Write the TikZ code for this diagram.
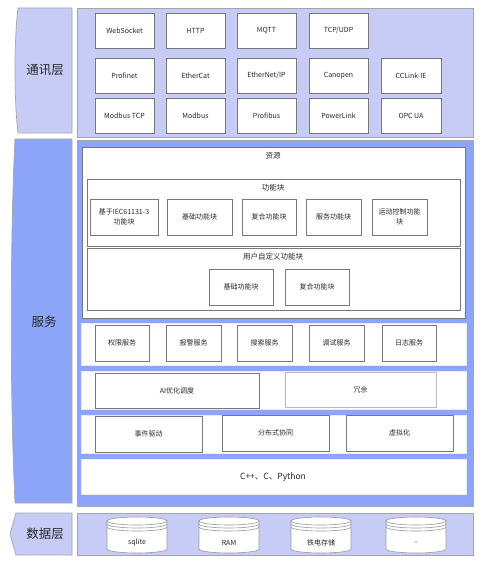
\documentclass[tikz,border=0pt]{standalone}
\usepackage{fontspec}
\setmainfont{Noto Sans CJK SC}
\definecolor{lav}{RGB}{199,204,247}
\definecolor{svc}{RGB}{140,165,248}
\definecolor{bord}{RGB}{120,120,120}
\definecolor{txt}{RGB}{40,40,40}
\tikzset{
  box/.style={draw=bord, line width=0.7pt, fill=white, inner sep=0pt, outer sep=0pt, align=center, text=txt, font=\fontsize{7}{10.5}\selectfont},
  band/.style={fill=white, draw=white!85!gray, line width=0.5pt, inner sep=0pt, outer sep=0pt},
  panel/.style={draw=gray!70, line width=0.7pt, inner sep=0pt, outer sep=0pt},
  layertxt/.style={text=txt, font=\fontsize{12.5}{14}\selectfont},
  ttl/.style={text=txt, font=\fontsize{7.5}{9}\selectfont, inner sep=0pt},
  cyl/.style={draw=gray!80, line width=0.6pt, fill=white}
}
\newcommand\bx[7]{\node[#1, minimum width={(#5-#3)*1pt}, minimum height={(#6-#4)*1pt}] (#2) at ({(#3+#5)/2},{(#4+#6)/2}) {#7};}
\newcommand\cyli[3]{%
  \path[cyl] (#2-30,521) -- (#2-30,549) arc[start angle=180,end angle=360,x radius=30pt,y radius=4pt] -- (#2+30,521) -- cycle;
  \draw[cyl] (#2,521) ellipse [x radius=30pt, y radius=4pt];
  \draw[cyl,fill=none] (#2-30,524) arc[start angle=180,end angle=360,x radius=30pt,y radius=4pt];
  \draw[cyl,fill=none] (#2-30,527) arc[start angle=180,end angle=360,x radius=30pt,y radius=4pt];
  \node[ttl, font=\fontsize{7}{8}\selectfont] (#1) at (#2,543) {#3};}
\begin{document}
\begin{tikzpicture}[x=1pt,y=-1pt]
\useasboundingbox[fill=white] (0,0) rectangle (483,564);
% ===== communication layer =====
\path[fill=lav, draw=gray!70, line width=0.7pt] (18,8) -- (72,8) -- (72,133) -- (18,133) .. controls (14,100) and (14,40) .. cycle;
\node[layertxt] (lcomm) at (45,70) {通讯层};
\bx{panel, fill=lav}{comm}{77}{8}{473}{137}{}
\bx{box}{ws}{95}{13}{154}{48}{WebSocket}
\bx{box}{http}{166}{13}{225}{48}{HTTP}
\bx{box}{mqtt}{237}{13}{296}{48}{MQTT}
\bx{box}{tcp}{309}{13}{368}{48}{TCP/UDP}
\bx{box}{pn}{95}{58}{154}{93}{Profinet}
\bx{box}{ec}{166}{58}{225}{93}{EtherCat}
\bx{box}{eip}{237}{58}{296}{93}{EtherNet/IP}
\bx{box}{co}{309}{58}{368}{93}{Canopen}
\bx{box}{cc}{381}{58}{441}{93}{CCLink-IE}
\bx{box}{mtcp}{95}{98}{154}{133}{Modbus TCP}
\bx{box}{mb}{166}{98}{225}{133}{Modbus}
\bx{box}{pb}{237}{98}{296}{133}{Profibus}
\bx{box}{pl}{309}{98}{368}{133}{PowerLink}
\bx{box}{opc}{381}{98}{441}{133}{OPC UA}
% ===== service layer =====
\path[fill=svc, draw=gray!70, line width=0.7pt] (15,139) -- (72,139) -- (72,503) -- (15,503) .. controls (10,400) and (10,240) .. cycle;
\node[layertxt] (lsvc) at (44,322) {服务};
\bx{panel, fill=svc}{svc}{77}{140}{473}{506}{}
\bx{panel, fill=white, draw=bord}{res}{82}{147}{465}{318}{}
\node[ttl] (resT) at (273,156) {资源};
\bx{panel, fill=white, draw=bord}{fb}{87}{179}{460}{246}{}
\node[ttl] (fbT) at (273,188) {功能块};
\bx{box}{f1}{90}{199}{158}{235}{基于IEC61131-3\\功能块}
\bx{box}{f2}{167}{199}{232}{235}{基础功能块}
\bx{box}{f3}{242}{199}{296}{235}{复合功能块}
\bx{box}{f4}{306}{199}{361}{235}{服务功能块}
\bx{box}{f5}{372}{199}{427}{235}{运动控制功能\\块}
\bx{panel, fill=white, draw=bord}{ufb}{87}{248}{460}{310}{}
\node[ttl] (ufbT) at (273,257) {用户自定义功能块};
\bx{box}{u1}{209}{269}{273}{305}{基础功能块}
\bx{box}{u2}{285}{269}{349}{305}{复合功能块}
% service rows
\bx{band}{b1}{81}{323}{466}{365}{}
\bx{box}{s1}{95}{325}{149}{361}{权限服务}
\bx{box}{s2}{166}{325}{221}{361}{报警服务}
\bx{box}{s3}{237}{325}{292}{361}{搜索服务}
\bx{box}{s4}{309}{325}{364}{361}{调试服务}
\bx{box}{s5}{382}{325}{436}{361}{日志服务}
\bx{band}{b2}{81}{371}{466}{409}{}
\bx{box}{ai}{95}{373}{259}{408}{AI优化调度}
\bx{box, draw=gray!55}{red}{285}{372}{436}{407}{冗余}
\bx{band}{b3}{81}{415}{466}{453}{}
\bx{box}{ev}{95}{416}{202}{452}{事件驱动}
\bx{box}{dc}{222}{415}{329}{451}{分布式协同}
\bx{box}{vt}{346}{415}{453}{451}{虚拟化}
\bx{band}{b4}{81}{459}{466}{494}{}
\node[text=txt, font=\fontsize{8.5}{10}\selectfont] (lang) at (273,477) {C++、C、Python};
% ===== data layer =====
\path[fill=lav, draw=gray!70, line width=0.7pt] (16,513) -- (72,513) -- (72,555) -- (16,555) -- (10,534) -- cycle;
\node[layertxt] (ldata) at (45,534) {数据层};
\bx{panel, fill=lav}{data}{77}{513}{473}{555}{}
\cyli{c1}{137}{sqlite}
\cyli{c2}{229}{RAM}
\cyli{c3}{321}{铁电存储}
\cyli{c4}{416}{--}
\end{tikzpicture}
\end{document}
